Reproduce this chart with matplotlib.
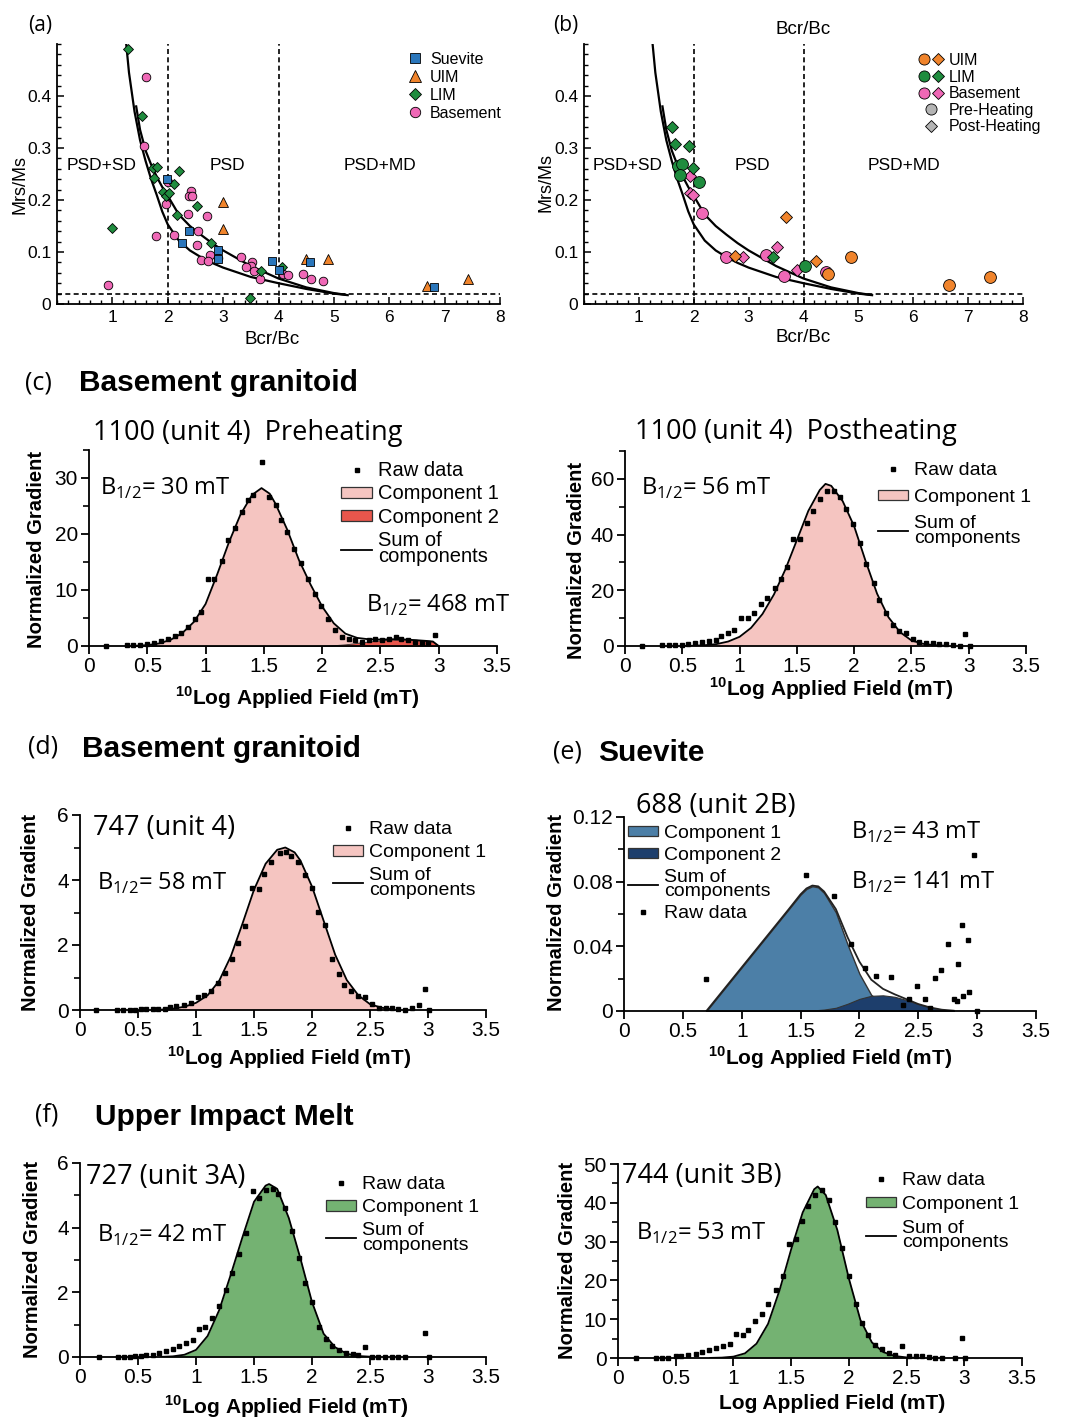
import matplotlib.pyplot as plt
from matplotlib.lines import Line2D
from matplotlib.patches import Patch
from matplotlib.legend_handler import HandlerTuple
from matplotlib.ticker import FixedLocator

W, H = 1067, 1418
plt.rcParams['font.family'] = ['Liberation Sans', 'DejaVu Sans']
plt.rcParams['mathtext.fontset'] = 'custom'
plt.rcParams['mathtext.rm'] = 'Open Sans'
plt.rcParams['mathtext.bf'] = 'Liberation Sans:bold'
plt.rcParams['axes.linewidth'] = 1.3
HUM = 'Open Sans'   # humanist face used for titles / annotations

BLUE, ORANGE, GREEN, PINK = '#2a76bb', '#f0842c', '#1f8c3e', '#ef68b6'
PINK_FILL, RED_FILL, GREEN_FILL = '#f5c5c1', '#e8564c', '#74b272'
STEEL, NAVY = '#4c7fa7', '#1d3e6c'

# ---------------- (a) Day plot, all samples ----------------
suevite_x = [1.99, 2.39, 2.25, 2.91, 2.91, 3.89, 4.01, 4.57, 6.81]
suevite_y = [0.24, 0.141, 0.117, 0.104, 0.087, 0.083, 0.066, 0.080, 0.032]
uim_x = [3.0, 2.99, 4.49, 4.90, 6.68, 7.42]
uim_y = [0.197, 0.144, 0.087, 0.087, 0.035, 0.049]
lim_x = [1.28, 1.53, 1.73, 1.80, 1.76, 2.20, 1.91, 1.96, 2.02, 2.11, 2.16, 2.53,
         0.99, 2.79, 3.69, 4.06, 3.48]
lim_y = [0.49, 0.361, 0.262, 0.264, 0.242, 0.255, 0.216, 0.208, 0.213, 0.231, 0.171,
         0.188, 0.147, 0.117, 0.063, 0.071, 0.011]
base_x = [1.60, 1.58, 2.01, 1.96, 2.42, 2.39, 2.43, 2.36, 2.70, 2.54, 1.79, 2.12, 2.52,
          2.77, 2.91, 2.60, 2.73, 3.32, 3.52, 3.51, 3.41, 3.56, 3.66, 4.08, 4.17, 4.44,
          4.59, 4.80, 0.93]
base_y = [0.436, 0.303, 0.235, 0.192, 0.218, 0.208, 0.208, 0.173, 0.169, 0.141, 0.131,
          0.132, 0.113, 0.094, 0.089, 0.085, 0.082, 0.091, 0.080, 0.074, 0.071, 0.063,
          0.049, 0.058, 0.055, 0.058, 0.048, 0.045, 0.037]

# SD-MD mixing curves
mix1_x = [1.25, 1.3, 1.4, 1.5, 1.6, 1.7, 1.8, 1.9, 2.0, 2.2, 2.4, 2.6, 2.8, 3.0, 3.5,
          4.0, 4.5, 5.0, 5.25]
mix1_y = [0.50, 0.445, 0.37, 0.315, 0.275, 0.24, 0.21, 0.178, 0.153, 0.122, 0.103,
          0.09, 0.079, 0.07, 0.052, 0.04, 0.029, 0.02, 0.017]
mix2_x = [1.43, 1.5, 1.6, 1.7, 1.8, 1.9, 2.0, 2.2, 2.4, 2.6, 2.8, 3.0, 3.5, 4.0, 4.5,
          5.0, 5.2]
mix2_y = [0.38, 0.335, 0.295, 0.268, 0.245, 0.225, 0.208, 0.172, 0.15, 0.133, 0.117,
          0.103, 0.073, 0.049, 0.032, 0.021, 0.018]

# ---------------- (b) Day plot, pre / post heating ----------------
b_uim_pre_x, b_uim_pre_y = [6.65, 7.39, 4.86, 4.45], [0.037, 0.052, 0.090, 0.058]
b_uim_post_x, b_uim_post_y = [3.69, 2.75, 4.22], [0.168, 0.093, 0.083]
b_lim_pre_x, b_lim_pre_y = [1.71, 1.79, 1.75, 2.10, 4.02], [0.266, 0.269, 0.248, 0.235, 0.074]
b_lim_post_x, b_lim_post_y = [1.61, 1.66, 1.91, 1.98, 3.45], [0.341, 0.307, 0.303, 0.262, 0.090]
b_base_pre_x, b_base_pre_y = [2.15, 2.58, 3.31, 3.64, 4.41], [0.175, 0.090, 0.095, 0.053, 0.062]
b_base_post_x = [1.93, 1.93, 1.99, 2.90, 3.52, 3.89]
b_base_post_y = [0.246, 0.213, 0.210, 0.091, 0.110, 0.065]

# ---------------- coercivity spectra ----------------
field_ticks = [0, 0.5, 1, 1.5, 2, 2.5, 3, 3.5]
field_labels = ['0', '0.5', '1', '1.5', '2', '2.5', '3', '3.5']

# (c) 1100 preheating
c1_raw_x = [0.15, 0.33, 0.38, 0.44, 0.50, 0.56, 0.62, 0.68, 0.74, 0.79, 0.85, 0.91, 0.96,
            1.02, 1.07, 1.14, 1.19, 1.25, 1.31, 1.36, 1.41, 1.48, 1.54, 1.60, 1.65, 1.70,
            1.76, 1.82, 1.88, 1.94, 1.99, 2.05, 2.11, 2.17, 2.23, 2.28, 2.34, 2.40, 2.45,
            2.51, 2.57, 2.63, 2.68, 2.74, 2.80, 2.86, 2.91, 2.97]
c1_raw_y = [0.0, 0.1, 0.15, 0.2, 0.3, 0.6, 0.9, 1.3, 1.8, 2.4, 3.4, 4.9, 6.0, 12.0, 12.0,
            15.2, 18.9, 21.0, 24.0, 26.0, 27.0, 32.8, 26.6, 25.1, 22.5, 20.4, 17.4, 14.8,
            11.9, 9.2, 7.1, 4.8, 2.8, 1.6, 1.3, 1.0, 0.7, 1.0, 1.3, 1.1, 1.3, 1.6, 1.3,
            1.0, 0.7, 0.6, 0.5, 2.0]
c1_x = [0.4, 0.5, 0.6, 0.7, 0.8, 0.9, 1.0, 1.1, 1.2, 1.3, 1.4, 1.48, 1.55, 1.6, 1.7, 1.8,
        1.9, 2.0, 2.1, 2.2, 2.3, 2.4, 2.5, 2.6, 2.7, 2.8, 2.9, 2.95, 3.0]
c1_comp1 = [0.05, 0.15, 0.45, 1.1, 2.3, 4.3, 7.5, 12.8, 18.5, 23.5, 27.0, 28.2, 27.2, 25.4,
            20.8, 15.4, 11.0, 7.0, 3.9, 1.9, 0.9, 0.4, 0.15, 0.06, 0.02, 0, 0, 0, 0]
c1_comp2 = [0, 0, 0, 0, 0, 0, 0, 0, 0, 0, 0, 0, 0, 0, 0, 0, 0, 0.05, 0.15, 0.3, 0.55, 0.8,
            1.0, 1.15, 1.15, 1.05, 0.9, 0.8, 0]

# (c) 1100 postheating
c2_raw_x = [0.15, 0.32, 0.38, 0.44, 0.50, 0.55, 0.61, 0.67, 0.73, 0.79, 0.84, 0.90, 0.95,
            1.01, 1.07, 1.13, 1.19, 1.24, 1.31, 1.36, 1.41, 1.47, 1.53, 1.59, 1.64, 1.70,
            1.76, 1.82, 1.88, 1.93, 1.99, 2.05, 2.10, 2.17, 2.22, 2.28, 2.34, 2.39, 2.45,
            2.51, 2.57, 2.63, 2.69, 2.74, 2.80, 2.86, 2.92, 2.97, 3.01]
c2_raw_y = [0.0, 0.3, 0.3, 0.4, 0.5, 0.8, 0.9, 1.3, 1.8, 2.3, 3.5, 4.8, 5.9, 9.9, 9.9,
            12.0, 15.0, 17.4, 20.7, 24.2, 28.5, 38.5, 38.3, 44.0, 48.6, 52.8, 55.8, 55.8,
            53.4, 49.2, 43.8, 36.9, 29.5, 22.6, 16.6, 11.9, 7.7, 5.5, 4.7, 2.5, 1.3, 1.0,
            1.1, 0.7, 0.7, 0.5, 0.0, 4.4, 0.0]
c2_x = [0.5, 0.6, 0.7, 0.8, 0.9, 1.0, 1.1, 1.2, 1.3, 1.4, 1.5, 1.6, 1.7, 1.75, 1.8, 1.9,
        2.0, 2.1, 2.2, 2.3, 2.4, 2.5, 2.6, 2.7, 2.8]
c2_comp1 = [0.0, 0.1, 0.3, 0.7, 1.6, 3.3, 6.5, 11.5, 18.5, 27.5, 38.0, 48.5, 56.0, 58.2,
            57.5, 52.0, 43.0, 30.5, 18.8, 10.3, 5.0, 2.0, 0.8, 0.3, 0.1]

# (d) 747
d_raw_x = [0.14, 0.32, 0.37, 0.43, 0.47, 0.53, 0.57, 0.63, 0.67, 0.73, 0.78, 0.83, 0.90,
           0.96, 1.02, 1.07, 1.13, 1.19, 1.25, 1.31, 1.36, 1.42, 1.48, 1.54, 1.59, 1.65,
           1.72, 1.78, 1.82, 1.88, 1.94, 2.00, 2.05, 2.11, 2.17, 2.23, 2.28, 2.34, 2.40,
           2.46, 2.52, 2.58, 2.64, 2.69, 2.74, 2.80, 2.86, 2.92, 2.97, 3.01]
d_raw_y = [0.0, 0.01, 0.01, 0.01, 0.01, 0.02, 0.02, 0.02, 0.03, 0.03, 0.08, 0.12, 0.15,
           0.23, 0.40, 0.45, 0.60, 0.83, 1.15, 1.58, 2.05, 2.60, 3.75, 3.72, 4.20, 4.55,
           4.82, 4.87, 4.74, 4.54, 4.16, 3.75, 3.01, 2.62, 1.57, 1.12, 0.78, 0.60, 0.43,
           0.41, 0.17, 0.06, 0.06, 0.05, 0.03, 0.0, 0.05, 0.14, 0.65, 0.0]
d_x = [0.7, 0.8, 0.9, 1.0, 1.1, 1.2, 1.3, 1.4, 1.5, 1.6, 1.7, 1.77, 1.85, 1.9, 2.0, 2.1,
       2.2, 2.3, 2.4, 2.5, 2.6, 2.7]
d_comp1 = [0.01, 0.04, 0.1, 0.22, 0.45, 0.9, 1.65, 2.65, 3.7, 4.5, 4.93, 5.0, 4.85, 4.6,
           3.8, 2.75, 1.7, 0.92, 0.45, 0.18, 0.07, 0.02]

# (e) 688
e_raw_x = [0.695, 1.545, 1.78, 1.93, 2.05, 2.14, 2.27, 2.37, 2.42, 2.49, 2.56, 2.60, 2.64,
           2.69, 2.75, 2.80, 2.83, 2.84, 2.87, 2.88, 2.92, 2.93, 2.97, 3.00]
e_raw_y = [0.020, 0.0839, 0.0711, 0.0412, 0.0266, 0.0215, 0.0211, 0.0039, 0.0077, 0.0155,
           0.0077, 0.0021, 0.0207, 0.0252, 0.0417, 0.0077, 0.0062, 0.0293, 0.053, 0.0094,
           0.0441, 0.0118, 0.0967, 0.0]
e_x = [0.7, 0.8, 0.9, 1.0, 1.1, 1.2, 1.3, 1.4, 1.5, 1.55, 1.6, 1.65, 1.7, 1.8, 1.9, 2.0,
       2.1, 2.2, 2.3, 2.4, 2.5, 2.6, 2.7, 2.8]
e_comp1 = [0.0, 0.009, 0.018, 0.027, 0.036, 0.045, 0.054, 0.063, 0.072, 0.0755, 0.0772,
           0.0765, 0.073, 0.061, 0.041, 0.023, 0.010, 0.004, 0.0015, 0.0005, 0, 0, 0, 0]
e_comp2 = [0, 0, 0, 0, 0, 0, 0, 0, 0.0002, 0.0003, 0.0004, 0.0006, 0.0009, 0.002, 0.0045,
           0.0075, 0.0094, 0.0097, 0.0088, 0.0068, 0.0043, 0.0022, 0.0008, 0.0002]

# (f) 727
f1_raw_x = [0.16, 0.33, 0.38, 0.43, 0.47, 0.53, 0.57, 0.63, 0.68, 0.74, 0.80, 0.85, 0.91,
            0.97, 1.03, 1.08, 1.14, 1.20, 1.26, 1.31, 1.37, 1.43, 1.49, 1.54, 1.60, 1.66,
            1.71, 1.77, 1.83, 1.89, 1.94, 2.00, 2.06, 2.12, 2.17, 2.23, 2.29, 2.35, 2.40,
            2.46, 2.52, 2.57, 2.63, 2.69, 2.74, 2.80, 2.97, 3.01]
f1_raw_y = [0.0, 0.0, 0.0, 0.0, 0.02, 0.03, 0.05, 0.07, 0.12, 0.19, 0.25, 0.33, 0.43, 0.53,
            0.86, 0.94, 1.22, 1.58, 2.08, 2.61, 3.19, 3.85, 5.14, 4.91, 5.15, 5.20, 5.04,
            4.62, 3.91, 3.06, 2.29, 1.70, 0.93, 0.57, 0.35, 0.21, 0.12, 0.09, 0.07, 0.31,
            0.0, 0.0, 0.0, 0.0, 0.0, 0.0, 0.75, 0.0]
f1_x = [0.7, 0.8, 0.9, 1.0, 1.1, 1.2, 1.3, 1.4, 1.5, 1.6, 1.63, 1.7, 1.8, 1.9, 2.0, 2.1,
        2.2, 2.3, 2.4, 2.5]
f1_comp1 = [0.005, 0.02, 0.07, 0.22, 0.65, 1.45, 2.55, 3.7, 4.8, 5.3, 5.35, 5.2, 4.3, 3.05,
            1.7, 0.72, 0.3, 0.1, 0.03, 0.01]

# (f) 744
f2_raw_x = [0.16, 0.33, 0.38, 0.43, 0.50, 0.55, 0.61, 0.68, 0.73, 0.79, 0.85, 0.91, 0.97,
            1.02, 1.08, 1.13, 1.19, 1.25, 1.30, 1.37, 1.43, 1.48, 1.54, 1.59, 1.65, 1.71,
            1.77, 1.83, 1.88, 1.94, 2.00, 2.06, 2.11, 2.17, 2.23, 2.29, 2.35, 2.40, 2.46,
            2.52, 2.58, 2.63, 2.69, 2.75, 2.81, 2.92, 2.98, 3.01]
f2_raw_y = [0.0, 0.0, 0.0, 0.0, 0.4, 0.4, 0.7, 1.1, 1.5, 2.0, 2.6, 3.0, 3.6, 6.3, 5.8, 7.3,
            9.5, 11.3, 14.0, 17.5, 21.1, 29.4, 30.6, 35.2, 39.2, 42.1, 43.4, 40.8, 35.0,
            28.4, 21.1, 13.8, 8.9, 5.8, 3.3, 2.2, 1.3, 0.9, 3.0, 0.4, 0.4, 0.4, 0.2, 0.1,
            0.0, 0.1, 5.1, 0.0]
f2_x = [0.8, 0.9, 1.0, 1.1, 1.2, 1.3, 1.4, 1.5, 1.6, 1.7, 1.73, 1.8, 1.9, 2.0, 2.1, 2.2,
        2.3, 2.4, 2.5, 2.6]
f2_comp1 = [0.03, 0.1, 0.35, 1.2, 3.7, 8.8, 17.5, 28.0, 37.5, 43.5, 44.2, 42.0, 33.0, 20.5,
            9.8, 4.0, 1.5, 0.5, 0.15, 0.04]


def add_ax(l, t, r, b):
    return fig.add_axes([l / W, 1 - b / H, (r - l) / W, (b - t) / H])


def ftext(x, y, s, **kw):
    kw.setdefault('ha', 'left')
    kw.setdefault('va', 'center')
    return fig.text(x / W, 1 - y / H, s, **kw)


def flegend(handles, labels, x, y, **kw):
    leg = fig.legend(handles, labels, loc='upper left', bbox_to_anchor=(x / W, 1 - y / H),
                     bbox_transform=fig.transFigure, frameon=False, borderpad=0,
                     borderaxespad=0, **kw)
    for t in leg.get_texts():
        t.set_linespacing(0.78)
    return leg


fig = plt.figure(figsize=(W / 100, H / 100), dpi=100)


def day_axes(box):
    ax = add_ax(*box)
    ax.set_xlim(0, 8)
    ax.set_ylim(0, 0.5)
    ax.spines[['top', 'right']].set_visible(False)
    ax.set_xticks([1, 2, 3, 4, 5, 6, 7, 8])
    ax.set_xticklabels(['1', '2', '3', '4', '5', '6', '7', '8'])
    ax.set_yticks([0, 0.1, 0.2, 0.3, 0.4])
    ax.set_yticklabels(['0', '0.1', '0.2', '0.3', '0.4'])
    ax.xaxis.set_minor_locator(FixedLocator([i * 0.2 for i in range(41)]))
    ax.yaxis.set_minor_locator(FixedLocator([i * 0.02 for i in range(26)]))
    ax.tick_params(direction='in', length=5, width=1.1, labelsize=12.5, pad=4)
    ax.tick_params(which='minor', direction='in', length=3, width=1.0)
    ax.plot(mix1_x, mix1_y, color='black', lw=1.6)
    ax.plot(mix2_x, mix2_y, color='black', lw=1.6)
    ax.axvline(2, color='black', lw=1.2, ls=(0, (3, 2)))
    ax.axvline(4, color='black', lw=1.2, ls=(0, (3, 2)))
    ax.axhline(0.02, color='black', lw=1.2, ls=(0, (3, 2)))
    for s, xx in [('PSD+SD', 0.8), ('PSD', 3.07), ('PSD+MD', 5.83)]:
        ax.text(xx, 0.266, s, ha='center', va='center', fontsize=12.5)
    ax.set_xlabel('Bcr/Bc', fontsize=13.5, va='center')
    ax.set_ylabel('Mrs/Ms', fontsize=13, va='center')
    return ax


mk = dict(ls='none', markeredgecolor='black', markeredgewidth=0.6)

# ---- (a)
ax_a = day_axes((57, 44, 500, 304))
ax_a.plot(base_x, base_y, marker='o', ms=6.2, color=PINK, **mk)
ax_a.plot(lim_x, lim_y, marker='D', ms=4.6, color=GREEN, **mk)
ax_a.plot(uim_x, uim_y, marker='^', ms=7, color=ORANGE, **mk)
ax_a.plot(suevite_x, suevite_y, marker='s', ms=5.8, color=BLUE, **mk)
ax_a.xaxis.set_label_coords(0.485, -0.138)
ax_a.yaxis.set_label_coords(-0.083, 0.46)
ftext(28, 26, '(a)', fontsize=15, family=HUM)
la = [Line2D([], [], marker='s', ms=7, color=BLUE, **mk),
      Line2D([], [], marker='^', ms=8, color=ORANGE, **mk),
      Line2D([], [], marker='D', ms=6, color=GREEN, **mk),
      Line2D([], [], marker='o', ms=7.5, color=PINK, **mk)]
flegend(la, ['Suevite', 'UIM', 'LIM', 'Basement'], 407, 52, fontsize=11.5,
        handlelength=1.0, handletextpad=0.45, labelspacing=0.18)

# ---- (b)
ax_b = day_axes((584, 44, 1023, 304))
ax_b.plot(b_base_pre_x, b_base_pre_y, marker='o', ms=8.5, color=PINK, **mk)
ax_b.plot(b_base_post_x, b_base_post_y, marker='D', ms=6.2, color=PINK, **mk)
ax_b.plot(b_lim_pre_x, b_lim_pre_y, marker='o', ms=8.5, color=GREEN, **mk)
ax_b.plot(b_lim_post_x, b_lim_post_y, marker='D', ms=6.2, color=GREEN, **mk)
ax_b.plot(b_uim_pre_x, b_uim_pre_y, marker='o', ms=8.5, color=ORANGE, **mk)
ax_b.plot(b_uim_post_x, b_uim_post_y, marker='D', ms=6.2, color=ORANGE, **mk)
ax_b.xaxis.set_label_coords(0.499, -0.13)
ax_b.yaxis.set_label_coords(-0.087, 0.466)
ftext(553, 26, '(b)', fontsize=15, family=HUM)
ftext(803, 30, 'Bcr/Bc', fontsize=13.5, ha='center')


def pair(c):
    return (Line2D([], [], marker='o', ms=8, color=c, **mk),
            Line2D([], [], marker='D', ms=6, color=c, **mk))


lb = [pair(ORANGE), pair(GREEN), pair(PINK),
      Line2D([], [], marker='o', ms=8, color='#b4b4b4', **mk),
      Line2D([], [], marker='D', ms=6, color='#b4b4b4', **mk)]
flegend(lb, ['UIM', 'LIM', 'Basement', 'Pre-Heating', 'Post-Heating'], 918, 53,
        fontsize=11.5, handlelength=1.6, handletextpad=0.3, labelspacing=0.1,
        handler_map={tuple: HandlerTuple(ndivide=None, pad=0.1)})


# ---------------- coercivity panels ----------------
def field_axes(box, ylim, ymaj, ylab, ymin, xl_pos, yl_pos, sup=True):
    ax = add_ax(*box)
    ax.set_xlim(0, 3.5)
    ax.set_ylim(*ylim)
    ax.spines[['top', 'right']].set_visible(False)
    ax.set_xticks(field_ticks)
    ax.set_xticklabels(field_labels)
    ax.set_yticks(ymaj)
    ax.set_yticklabels(ylab)
    ax.yaxis.set_minor_locator(FixedLocator(ymin))
    ax.tick_params(direction='out', length=6, width=1.3, labelsize=15, pad=2)
    ax.tick_params(which='minor', direction='out', length=4, width=1.2)
    xl = r'$^{\mathbf{10}}$Log Applied Field (mT)' if sup else 'Log Applied Field (mT)'
    ax.set_xlabel(xl, fontsize=15, fontweight='bold', va='center')
    ax.set_ylabel('Normalized Gradient', fontsize=14.5, fontweight='bold', va='center')
    ax.xaxis.set_label_coords(*xl_pos)
    ax.yaxis.set_label_coords(*yl_pos)
    return ax


def raw(ax, x, y):
    ax.plot(x, y, ls='none', marker='s', ms=3.2, color='black', clip_on=False, zorder=5)


def bhalf(x, y, val):
    ftext(x, y, 'B$_{1/2}$= ' + val + ' mT', fontsize=17, family=HUM)


h_raw = Line2D([], [], ls='none', marker='s', ms=3.2, color='black')
h_sum = Line2D([], [], color='black', lw=1.3)
LEGK = dict(fontsize=14, handlelength=1.55, handleheight=0.45, handletextpad=0.3,
            labelspacing=0.32)
SUM_LABEL = 'Sum of\ncomponents'


def std_legend(fill, x, y, spacing=0.32):
    flegend([h_raw, Patch(facecolor=fill, edgecolor='#333333', lw=0.9), h_sum],
            ['Raw data', 'Component 1', SUM_LABEL], x, y,
            **dict(LEGK, labelspacing=spacing))


# (c) left
ax = field_axes((89, 450, 497, 646), (0, 35), [0, 10, 20, 30], ['0', '10', '20', '30'],
                [5, 15, 25, 35], (0.51, -0.262), (-0.128, 0.494))
ax.fill_between(c1_x, c1_comp1, color=PINK_FILL, lw=0)
ax.fill_between(c1_x, c1_comp2, color=RED_FILL, edgecolor='#333333', lw=0.6)
ax.plot(c1_x, [p + q for p, q in zip(c1_comp1, c1_comp2)], color='black', lw=1.3)
raw(ax, c1_raw_x, c1_raw_y)
ftext(25, 383, '(c)', fontsize=18, family=HUM)
ftext(79, 383, 'Basement granitoid', fontsize=21.5, fontweight='bold')
ftext(93, 433, '1100 (unit 4)  Preheating', fontsize=19.5, family=HUM)
bhalf(100, 488, '30')
bhalf(366, 605, '468')
flegend([h_raw, Patch(facecolor=PINK_FILL, edgecolor='#333333', lw=0.9),
         Patch(facecolor=RED_FILL, edgecolor='#333333', lw=0.9), h_sum],
        ['Raw data', 'Component 1', 'Component 2', SUM_LABEL], 341, 461,
        **dict(LEGK, fontsize=14.5, labelspacing=0.22))

# (c) right
ax = field_axes((625, 451, 1026, 646), (0, 70), [0, 20, 40, 60], ['0', '20', '40', '60'],
                [10, 30, 50, 70], (0.514, -0.217), (-0.12, 0.44))
ax.fill_between(c2_x, c2_comp1, color=PINK_FILL, lw=0)
ax.plot(c2_x, c2_comp1, color='black', lw=1.3)
raw(ax, c2_raw_x, c2_raw_y)
ftext(635, 432, '1100 (unit 4)  Postheating', fontsize=19.5, family=HUM)
bhalf(641, 488, '56')
std_legend(PINK_FILL, 878, 462, spacing=0.5)

# (d)
ax = field_axes((80, 815, 486, 1010), (0, 6), [0, 2, 4, 6], ['0', '2', '4', '6'],
                [1, 3, 5], (0.515, -0.246), (-0.123, 0.5))
ax.fill_between(d_x, d_comp1, color=PINK_FILL, lw=0)
ax.plot(d_x, d_comp1, color='black', lw=1.3)
raw(ax, d_raw_x, d_raw_y)
ftext(28, 747, '(d)', fontsize=18, family=HUM)
ftext(82, 749, 'Basement granitoid', fontsize=21.5, fontweight='bold')
ftext(93, 828, '747 (unit 4)', fontsize=19.5, family=HUM)
bhalf(97, 883, '58')
std_legend(PINK_FILL, 333, 821)

# (e)
ax = field_axes((624, 817, 1036, 1011), (0, 0.12), [0, 0.04, 0.08, 0.12],
                ['0', '0.04', '0.08', '0.12'], [0.02, 0.06, 0.10],
                (0.5, -0.242), (-0.163, 0.508))
ax.fill_between(e_x, e_comp1, color=STEEL, edgecolor='#333333', lw=1.0)
ax.fill_between(e_x, e_comp2, color=NAVY, edgecolor='#333333', lw=0.8)
ax.plot(e_x, [p + q for p, q in zip(e_comp1, e_comp2)], color='#222222', lw=1.3)
raw(ax, e_raw_x, e_raw_y)
ftext(553, 752, '(e)', fontsize=18, family=HUM)
ftext(598, 753, 'Suevite', fontsize=21.5, fontweight='bold')
ftext(636, 806, '688 (unit 2B)', fontsize=19.5, family=HUM)
bhalf(851, 832, '43')
bhalf(851, 882, '141')
flegend([Patch(facecolor=STEEL, edgecolor='#333333', lw=0.9),
         Patch(facecolor=NAVY, edgecolor='#333333', lw=0.9), h_sum, h_raw],
        ['Component 1', 'Component 2', SUM_LABEL, 'Raw data'], 628, 825,
        **dict(LEGK, labelspacing=0.25))

# (f) left
ax = field_axes((80, 1163, 486, 1357), (0, 6), [0, 2, 4, 6], ['0', '2', '4', '6'],
                [1, 3, 5], (0.507, -0.255), (-0.116, 0.505))
ax.fill_between(f1_x, f1_comp1, color=GREEN_FILL, lw=0)
ax.plot(f1_x, f1_comp1, color='black', lw=1.3)
raw(ax, f1_raw_x, f1_raw_y)
ftext(35, 1115, '(f)', fontsize=18, family=HUM)
ftext(95, 1117, 'Upper Impact Melt', fontsize=21.5, fontweight='bold')
ftext(86, 1177, '727 (unit 3A)', fontsize=19.5, family=HUM)
bhalf(97, 1235, '42')
std_legend(GREEN_FILL, 326, 1176)

# (f) right
ax = field_axes((618, 1164, 1022, 1358), (0, 50), [0, 10, 20, 30, 40, 50],
                ['0', '10', '20', '30', '40', '50'], [5, 15, 25, 35, 45],
                (0.53, -0.232), (-0.124, 0.505), sup=False)
ax.fill_between(f2_x, f2_comp1, color=GREEN_FILL, lw=0)
ax.plot(f2_x, f2_comp1, color='black', lw=1.3)
raw(ax, f2_raw_x, f2_raw_y)
ftext(622, 1176, '744 (unit 3B)', fontsize=19.5, family=HUM)
bhalf(636, 1233, '53')
std_legend(GREEN_FILL, 866, 1172, spacing=0.36)

fig.savefig('out.png', dpi=100)
